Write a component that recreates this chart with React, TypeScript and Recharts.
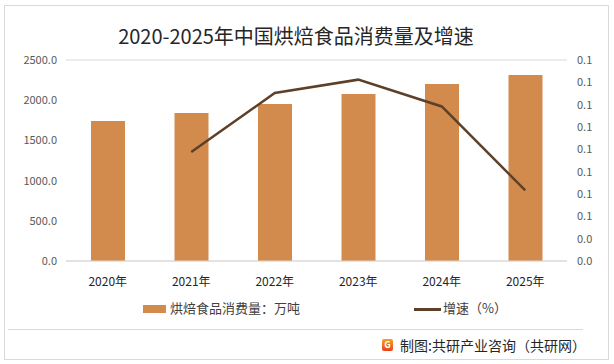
import {
  ComposedChart,
  Bar,
  Line,
  XAxis,
  YAxis,
  CartesianGrid,
  Legend,
} from "recharts";

// ─── Data ───────────────────────────────────────

const years = ["2020年", "2021年", "2022年", "2023年", "2024年", "2025年"];
const consumption = [1741, 1841, 1953, 2077, 2201, 2313];
const growth = [null, 0.0572, 0.0638, 0.0653, 0.0623, 0.0529];
const leftTicks = [0, 500, 1000, 1500, 2000, 2500];
const rightTicks = [0.045, 0.0475, 0.05, 0.0525, 0.055, 0.0575, 0.06, 0.0625, 0.065, 0.0675];

const barName = "烘焙食品消费量：万吨";
const lineName = "增速（%）";

const FONT = '"Noto Sans CJK SC", "Noto Sans", sans-serif';
const BAR_COLOR = "#D38B4D";
const LINE_COLOR = "#5E4029";

const chartData = years.map((year, i) => ({
  year,
  consumption: consumption[i],
  growth: growth[i],
}));

// one decimal, rounding halves up (0.05 -> 0.1)
const oneDecimal = (v: number) => (Math.round(v * 10 + 1e-6) / 10).toFixed(1);

// ─── Legend ─────────────────────────────────────

function ChartLegend() {
  return (
    <div
      style={{
        position: "relative",
        height: 20,
        fontFamily: FONT,
        fontSize: 13,
        color: "#404040",
      }}
    >
      <div style={{ position: "absolute", left: 143, top: 5, width: 23, height: 8, background: BAR_COLOR }} />
      <span style={{ position: "absolute", left: 170, top: -2, whiteSpace: "nowrap" }}>{barName}</span>
      <div style={{ position: "absolute", left: 414, top: 8, width: 27, height: 3, background: LINE_COLOR }} />
      <span style={{ position: "absolute", left: 443, top: -2, whiteSpace: "nowrap" }}>{lineName}</span>
    </div>
  );
}

// ─── Component ──────────────────────────────────

export default function App() {
  return (
    <div
      style={{
        position: "absolute",
        left: 0,
        top: 0,
        width: 614,
        height: 364,
        background: "#fff",
        fontFamily: FONT,
      }}
    >
      <div
        style={{
          position: "absolute",
          left: 4,
          top: 5,
          width: 603,
          height: 353,
          border: "1px solid #d9d9d9",
        }}
      />
      <div
        style={{
          position: "absolute",
          left: 0,
          width: 592,
          top: 21,
          textAlign: "center",
          fontSize: 20,
          color: "#262626",
          whiteSpace: "nowrap",
        }}
      >
        2020-2025年中国烘焙食品消费量及增速
      </div>

      <div style={{ position: "absolute", left: 0, top: 0 }}>
        <ComposedChart
          width={614}
          height={364}
          data={chartData}
          margin={{ top: 60, right: 0, left: 8, bottom: 53 }}
        >
          <CartesianGrid stroke="#d9d9d9" vertical={false} />
          <XAxis
            dataKey="year"
            axisLine={{ stroke: "#d9d9d9" }}
            tickLine={false}
            tick={{ fontSize: 12, fill: "#262626", fontFamily: FONT }}
            tickMargin={10}
            height={30}
          />
          <YAxis
            yAxisId="left"
            domain={[0, 2500]}
            ticks={leftTicks}
            interval={0}
            axisLine={false}
            tickLine={false}
            tick={{ fontSize: 11, fill: "#595959", fontFamily: FONT }}
            tickFormatter={(v: number) => v.toFixed(1)}
            tickMargin={3}
            width={58}
          />
          <YAxis
            yAxisId="right"
            orientation="right"
            domain={[0.045, 0.0675]}
            ticks={rightTicks}
            interval={0}
            axisLine={false}
            tickLine={false}
            tick={{ fontSize: 11, fill: "#595959", fontFamily: FONT }}
            tickFormatter={oneDecimal}
            tickMargin={4}
            width={47}
          />
          <Legend
            verticalAlign="bottom"
            content={() => <ChartLegend />}
            wrapperStyle={{ left: 0, top: 300, width: 614, height: 20 }}
          />
          <Bar
            yAxisId="left"
            dataKey="consumption"
            name={barName}
            fill={BAR_COLOR}
            barSize={34}
            isAnimationActive={false}
          />
          <Line
            yAxisId="right"
            dataKey="growth"
            name={lineName}
            stroke={LINE_COLOR}
            strokeWidth={2.5}
            dot={false}
            activeDot={false}
            connectNulls
            isAnimationActive={false}
          />
        </ComposedChart>
      </div>

      <div
        style={{
          position: "absolute",
          left: 8,
          top: 329,
          width: 575,
          height: 1,
          background: "#d9d9d9",
        }}
      />
      <div
        style={{
          position: "absolute",
          right: 28,
          top: 335,
          display: "flex",
          alignItems: "center",
          fontSize: 14,
          color: "#262626",
          whiteSpace: "nowrap",
        }}
      >
        <span
          style={{
            display: "inline-block",
            width: 11,
            height: 12,
            marginRight: 7,
            borderRadius: 2,
            background: "linear-gradient(180deg, #f7a21b, #e8421f)",
            color: "#fff",
            fontSize: 9,
            lineHeight: "12px",
            textAlign: "center",
            fontWeight: 700,
          }}
        >
          G
        </span>
        制图:共研产业咨询（共研网）
      </div>
    </div>
  );
}
